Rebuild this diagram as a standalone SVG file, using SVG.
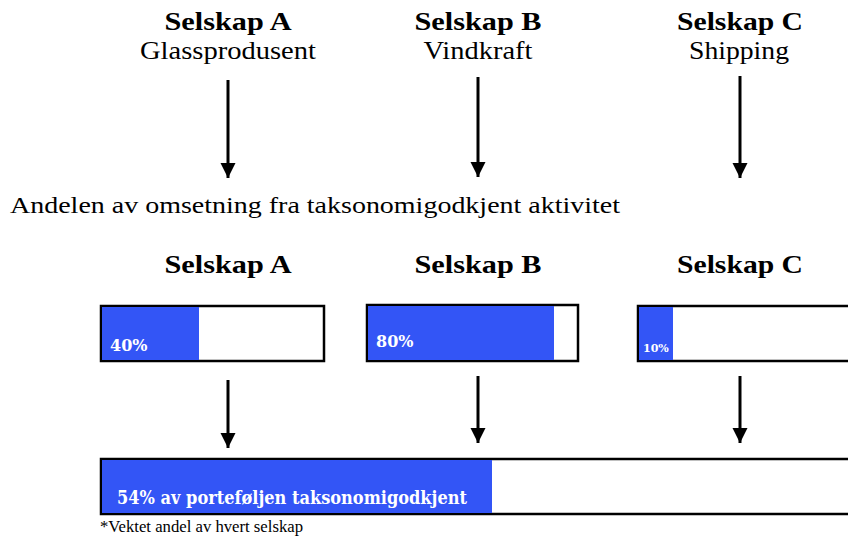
<svg xmlns="http://www.w3.org/2000/svg" width="848" height="538" viewBox="0 0 848 538">
<style>
.h{font-family:"Liberation Serif","DejaVu Serif",serif;font-weight:bold;font-size:26px;fill:#000;text-anchor:middle}
.s{font-family:"Liberation Serif","DejaVu Serif",serif;font-size:25px;fill:#000;text-anchor:middle}
.t{font-family:"Liberation Serif","DejaVu Serif",serif;font-size:24px;fill:#000}
.p{font-family:"DejaVu Serif","Liberation Serif",serif;font-weight:bold;fill:#fff}
.f{font-family:"Liberation Serif","DejaVu Serif",serif;font-size:16px;fill:#000}
.box{fill:#fff;stroke:#000;stroke-width:2.5}
.fill{fill:#3355F6}
.arr{stroke:#000;stroke-width:3;fill:none}
</style>
<defs>
<marker id="ah" markerUnits="userSpaceOnUse" markerWidth="16" markerHeight="16" viewBox="0 0 16 16" refX="15" refY="8" orient="auto">
<path d="M0,0.5 L15,8 L0,15.5 Z" fill="#000"/>
</marker>
</defs>
<rect width="848" height="538" fill="#fff"/>
<g id="companyA">
<text class="h" x="228" y="30" textLength="127" lengthAdjust="spacingAndGlyphs">Selskap A</text>
<text class="s" x="228" y="59" textLength="176" lengthAdjust="spacingAndGlyphs">Glassprodusent</text>
</g>
<g id="companyB">
<text class="h" x="478" y="30" textLength="127" lengthAdjust="spacingAndGlyphs">Selskap B</text>
<text class="s" x="478" y="59" textLength="109" lengthAdjust="spacingAndGlyphs">Vindkraft</text>
</g>
<g id="companyC">
<text class="h" x="740" y="30" textLength="126" lengthAdjust="spacingAndGlyphs">Selskap C</text>
<text class="s" x="739" y="59" textLength="100" lengthAdjust="spacingAndGlyphs">Shipping</text>
</g>
<g id="title">
<text class="t" x="10" y="213" textLength="610" lengthAdjust="spacingAndGlyphs">Andelen av omsetning fra taksonomigodkjent aktivitet</text>
</g>
<g id="barA">
<text class="h" x="228" y="273" textLength="127" lengthAdjust="spacingAndGlyphs">Selskap A</text>
<rect class="box" x="101" y="306" width="223" height="55"/>
<rect class="fill" x="102" y="307" width="97" height="53"/>
<text class="p" x="110" y="351" font-size="16">40%</text>
</g>
<g id="barB">
<text class="h" x="478" y="273" textLength="127" lengthAdjust="spacingAndGlyphs">Selskap B</text>
<rect class="box" x="367" y="305" width="211" height="56"/>
<rect class="fill" x="368" y="306" width="186" height="54"/>
<text class="p" x="376" y="347" font-size="16">80%</text>
</g>
<g id="barC">
<text class="h" x="740" y="273" textLength="126" lengthAdjust="spacingAndGlyphs">Selskap C</text>
<rect class="box" x="638" y="306" width="230" height="55"/>
<rect class="fill" x="639" y="307" width="34" height="53"/>
<text class="p" x="643" y="352" font-size="11">10%</text>
</g>
<g id="portfolio">
<rect class="box" x="101" y="459" width="770" height="55"/>
<rect class="fill" x="102" y="460" width="390" height="53"/>
<text class="p" x="117" y="504" font-size="19" textLength="350" lengthAdjust="spacingAndGlyphs">54% av porteføljen taksonomigodkjent</text>
</g>
<g id="footnote">
<text class="f" x="100" y="532" textLength="203" lengthAdjust="spacingAndGlyphs">*Vektet andel av hvert selskap</text>
</g>
<g id="connectors">
<line class="arr" x1="228" y1="80" x2="228" y2="178" marker-end="url(#ah)"/>
<line class="arr" x1="478" y1="77" x2="478" y2="177" marker-end="url(#ah)"/>
<line class="arr" x1="740" y1="76" x2="740" y2="178" marker-end="url(#ah)"/>
<line class="arr" x1="228" y1="380" x2="228" y2="448" marker-end="url(#ah)"/>
<line class="arr" x1="478" y1="376" x2="478" y2="443" marker-end="url(#ah)"/>
<line class="arr" x1="740" y1="376" x2="740" y2="443" marker-end="url(#ah)"/>
</g>
</svg>
